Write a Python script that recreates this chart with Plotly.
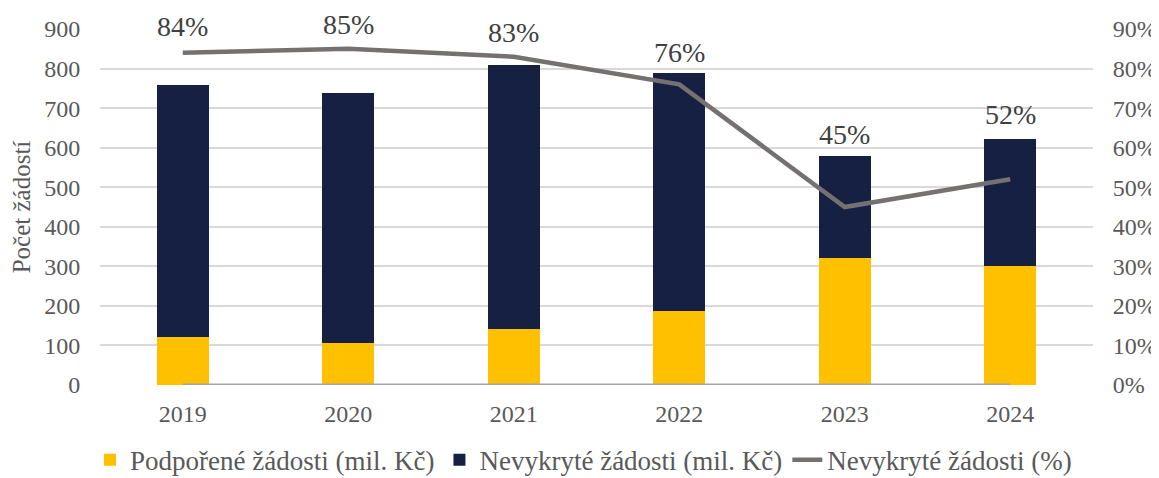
import plotly.graph_objects as go

years = ["2019", "2020", "2021", "2022", "2023", "2024"]
podporene = [121, 107, 142, 187, 320, 300]
nevykryte = [638, 632, 668, 603, 258, 322]
nevykryte_pct = [0.84, 0.85, 0.83, 0.76, 0.45, 0.52]
zero_series = [0, 0, 0, 0, 0, 0]
pct_labels = ["84%", "85%", "83%", "76%", "45%", "52%"]

# label offsets above the line points (pixels) - style only
label_shift = [26, 24, 24, 32, 73, 65]

FONT = "Liberation Serif, Times New Roman, serif"
TXT = "#595959"

fig = go.Figure()
fig.add_trace(go.Bar(x=years, y=podporene, name="Podpořené žádosti (mil. Kč)",
                     marker=dict(color="#FFC000", line=dict(width=0))))
fig.add_trace(go.Bar(x=years, y=nevykryte, name="Nevykryté žádosti (mil. Kč)",
                     marker=dict(color="#152042", line=dict(width=0))))
fig.add_trace(go.Scatter(x=years, y=zero_series, yaxis="y2", mode="lines",
                         line=dict(color="#A5A5A5", width=3), showlegend=False,
                         hoverinfo="skip"))
fig.add_trace(go.Scatter(x=years, y=nevykryte_pct, yaxis="y2", mode="lines",
                         name="Nevykryté žádosti (%)",
                         line=dict(color="#767171", width=4.5)))

# category axis: annotations are placed by category index
for i, (v, lab, sh) in enumerate(zip(nevykryte_pct, pct_labels, label_shift)):
    fig.add_annotation(x=i, y=v, xref="x", yref="y2", text=lab, showarrow=False,
                       yanchor="middle", yshift=sh,
                       font=dict(family=FONT, size=28, color="#404040"))

# the page body has an 8px margin, so the figure is sized to fit the window
fig.update_layout(
    width=1151, height=470,
    barmode="stack", bargap=0.686,
    plot_bgcolor="white", paper_bgcolor="white",
    margin=dict(l=92, r=66, t=21, b=93, autoexpand=False),
    font=dict(family=FONT, size=24, color=TXT),
    xaxis=dict(type="category", range=[-0.5, len(years) - 0.5], showgrid=False,
               showline=False, ticks="", tickfont=dict(size=24, color=TXT),
               ticklabelstandoff=12),
    yaxis=dict(range=[0, 900], dtick=100, showgrid=True, gridcolor="#D9D9D9", gridwidth=1.5,
               zeroline=False, showline=False, tickfont=dict(size=24, color=TXT),
               ticks="outside", ticklen=14, tickcolor="rgba(0,0,0,0)",
               title=dict(text="Počet žádostí", font=dict(size=25, color=TXT), standoff=10)),
    yaxis2=dict(range=[0, 0.9], dtick=0.1, tickformat=".0%", overlaying="y", side="right",
                showgrid=False, zeroline=False, showline=False,
                ticks="outside", ticklen=14, tickcolor="rgba(0,0,0,0)",
                tickfont=dict(size=24, color=TXT)),
    legend=dict(orientation="h", x=0.5, xanchor="center", xref="container",
                y=0.038, yref="container", yanchor="middle", traceorder="normal",
                font=dict(size=27, color=TXT)),
    showlegend=True,
)

fig.write_html("out.html")
